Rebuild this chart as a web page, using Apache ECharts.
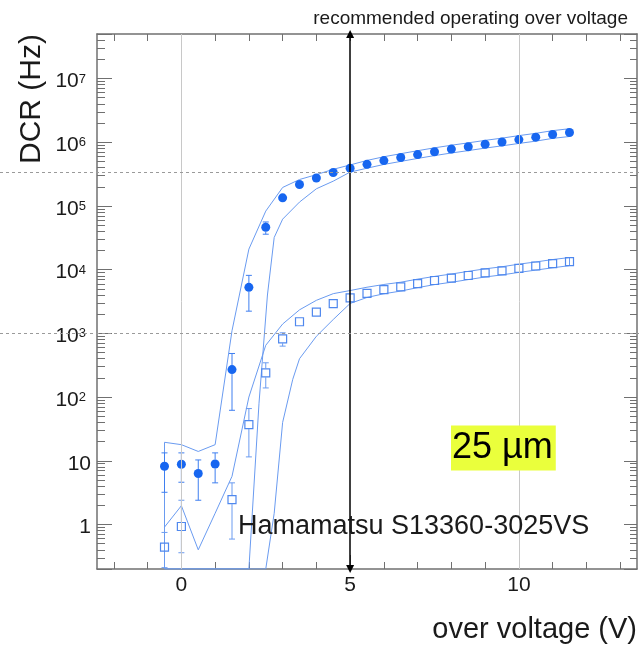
<!DOCTYPE html>
<html>
<head>
<meta charset="utf-8">
<script src="https://cdn.jsdelivr.net/npm/echarts@6/dist/echarts.min.js"></script>
<style>html,body{margin:0;padding:0;background:#fff}#chart{width:641px;height:651px}</style>
</head>
<body>
<div id="chart"></div>
<script>
// ---------------- data ----------------
const circleVoltage = [-0.5,0,0.5,1,1.5,2,2.5,3,3.5,4,4.5,5,5.5,6,6.5,7,7.5,8,8.5,9,9.5,10,10.5,11,11.5];
const circleDCR     = [8.2,8.8,6.3,8.9,270,5270,46200,1.34e5,2.17e5,2.75e5,3.35e5,3.9e5,4.5e5,5.15e5,5.75e5,6.4e5,7.1e5,7.8e5,8.5e5,9.3e5,1.01e6,1.1e6,1.2e6,1.32e6,1.42e6];
const circleErrLow  = [3.2,4.6,2.4,4.5,62,2230,3.6e4,1.2e5,2.1e5,2.67e5,3.25e5,3.78e5,4.37e5,5.0e5,5.58e5,6.21e5,6.89e5,7.57e5,8.25e5,9.02e5,9.8e5,1.07e6,1.16e6,1.28e6,1.38e6];
const circleErrHigh = [13.3,13.3,10.3,13.3,483,8130,5.6e4,1.5e5,2.24e5,2.83e5,3.45e5,4.02e5,4.64e5,5.3e5,5.92e5,6.59e5,7.31e5,8.03e5,8.76e5,9.58e5,1.04e6,1.13e6,1.24e6,1.36e6,1.46e6];

const squareVoltage = [-0.5,0,1.5,2,2.5,3,3.5,4,4.5,5,5.5,6,6.5,7,7.5,8,8.5,9,9.5,10,10.5,11,11.5];
const squareDCR     = [0.44,0.93,2.45,37,240,822,1520,2150,2920,3600,4250,4850,5350,6050,6750,7350,8100,8900,9600,10500,11400,12400,13400];
const squareErrLow  = [0.21,0.36,0.59,11.5,139,630,1320,2000,2780,3460,4080,4660,5140,5810,6480,7060,7780,8540,9220,10100,10900,11900,12900];
const squareErrHigh = [0.75,2.4,4.5,66,345,1020,1750,2300,3070,3740,4420,5040,5560,6290,7020,7640,8420,9260,9980,10900,11900,12900,13900];

// systematic bands: [over voltage, DCR]
const circleBandUpper = [[-0.5,0.2],[-0.5,19.5],[0,17.9],[0.5,14],[1,17.9],[1.5,1100],[2,2.1e4],[2.5,8.3e4],[3,1.95e5],[3.5,2.6e5],[4,3.1e5],[4.5,3.76e5],[5,4.4e5],[5.5,5.18e5],[6,5.92e5],[6.5,6.61e5],[7,7.36e5],[7.5,8.17e5],[8,8.97e5],[8.5,9.78e5],[9,1.07e6],[9.5,1.16e6],[10,1.27e6],[10.5,1.38e6],[11,1.52e6],[11.5,1.63e6]];
const circleBandLower = [[-0.5,0.2],[2,0.2],[2.3,80],[2.55,4000],[2.75,3.2e4],[3,6.2e4],[3.5,1.15e5],[4,1.86e5],[4.5,2.45e5],[5,3.4e5],[5.5,3.91e5],[6,4.48e5],[6.5,5.0e5],[7,5.57e5],[7.5,6.17e5],[8,6.78e5],[8.5,7.39e5],[9,8.09e5],[9.5,8.78e5],[10,9.57e5],[10.5,1.04e6],[11,1.15e6],[11.5,1.23e6]];
const squareBandUpper = [[-0.5,0.2],[-0.5,0.91],[0,1.97],[0.5,0.40],[1,1.5],[1.5,5.7],[2,100],[2.5,650],[3,1400],[3.5,2340],[4,3300],[4.5,4200],[5,4700],[5.5,5300],[6,5850],[6.5,6350],[7,7100],[7.5,7830],[8,8530],[8.5,9400],[9,10300],[9.5,11100],[10,12200],[10.5,13200],[11,14400],[11.5,15500]];
const squareBandLower = [[-0.5,0.2],[2.5,0.2],[2.75,1.5],[3,40],[3.3,190],[3.5,400],[4,900],[4.5,1650],[5,2950],[5.5,3660],[6,4180],[6.5,4610],[7,5220],[7.5,5820],[8,6340],[8.5,6980],[9,7670],[9.5,8280],[10,9050],[10.5,9830],[11,10700],[11.5,11550]];

const recommendedVoltage = [5];
const gridVoltages = [0, 10];
const refLevels = [3.45e5, 1e3];

const xLabelValues = [0, 5, 10];
const xMinorTicks = [-2,-1,0,1,2,3,4,5,6,7,8,9,10,11,12,13];
const yMinorTicks = [0.3,0.4,0.5,0.6,0.7,0.8,0.9,2,3,4,5,6,7,8,9,20,30,40,50,60,70,80,90,
  200,300,400,500,600,700,800,900,2e3,3e3,4e3,5e3,6e3,7e3,8e3,9e3,2e4,3e4,4e4,5e4,6e4,7e4,8e4,9e4,
  2e5,3e5,4e5,5e5,6e5,7e5,8e5,9e5,2e6,3e6,4e6,5e6,6e6,7e6,8e6,9e6,2e7,3e7,4e7];

// ---------------- styles ----------------
const FONT = 'Liberation Sans';
const TEXT = '#1a1a1a';
const FRAME = '#707070';
const DOT = '#1766f0';
const LINE = '#6a9bf0';
const SQ = '#4f88ee';
const X_MIN = -2.5, X_MAX = 13.5, Y_MIN = 0.2, Y_MAX = 5e7;
const MARK_R = 4.5;

// ROOT-like error bars: drawn only outside the marker, with small end caps
function errorBars(xs, ys, lo, hi, color) {
  return {
    type: 'custom', xAxisIndex: 0, yAxisIndex: 0, z: 3, silent: true,
    data: xs.map((x, i) => [x, ys[i], lo[i], hi[i]]),
    encode: { x: 0, y: [1, 2, 3] },
    renderItem: function (params, api) {
      const x = api.value(0);
      const m = api.coord([x, api.value(1)]);
      const a = api.coord([x, api.value(2)]);
      const b = api.coord([x, api.value(3)]);
      const c = 3;
      const st = { stroke: color, lineWidth: 1 };
      const kids = [];
      if (a[1] > m[1] + MARK_R) {
        kids.push({ type: 'line', shape: { x1: m[0], y1: m[1] + MARK_R, x2: a[0], y2: a[1] }, style: st });
        kids.push({ type: 'line', shape: { x1: a[0]-c, y1: a[1], x2: a[0]+c, y2: a[1] }, style: st });
      }
      if (b[1] < m[1] - MARK_R) {
        kids.push({ type: 'line', shape: { x1: m[0], y1: m[1] - MARK_R, x2: b[0], y2: b[1] }, style: st });
        kids.push({ type: 'line', shape: { x1: b[0]-c, y1: b[1], x2: b[0]+c, y2: b[1] }, style: st });
      }
      return { type: 'group', children: kids };
    }
  };
}

function yLabel(v) {
  const l = Math.log10(v), e = Math.round(l);
  if (Math.abs(l - e) > 1e-6) return '';
  if (e === 0) return '{b|1}';
  if (e === 1) return '{b|10}';
  return '{b|10}{s|' + e + '}';
}

const xBase = { type: 'value', min: X_MIN, max: X_MAX, splitLine: { show: false } };
const yBase = { type: 'log', logBase: 10, min: Y_MIN, max: Y_MAX, splitLine: { show: false } };

const chart = echarts.init(document.getElementById('chart'), null, { renderer: 'canvas' });
chart.setOption({
  animation: false,
  backgroundColor: '#fff',
  title: {
    text: 'recommended operating over voltage', right: 8, top: 4,
    textStyle: { fontSize: 19, fontWeight: 'normal', color: TEXT, fontFamily: FONT }
  },
  grid: { left: 97, right: 4, top: 34, bottom: 82, containLabel: false },
  xAxis: [
    Object.assign({}, xBase, {
      position: 'bottom',
      axisLine: { show: true, onZero: false, lineStyle: { color: FRAME, width: 1.5 } },
      axisTick: { show: true, inside: true, length: 7, customValues: xMinorTicks, lineStyle: { color: FRAME } },
      axisLabel: { customValues: xLabelValues, fontSize: 21, color: TEXT, fontFamily: FONT, margin: 6 },
      name: 'over voltage (V)', nameLocation: 'end', nameGap: 0,
      nameTextStyle: { fontSize: 29, color: TEXT, fontFamily: FONT, align: 'right', verticalAlign: 'top', padding: [46, 0, 0, 0] }
    }),
    Object.assign({}, xBase, {
      position: 'bottom',
      axisLine: { show: false, onZero: false },
      axisTick: { show: true, inside: true, length: 14, customValues: xLabelValues, lineStyle: { color: FRAME } },
      axisLabel: { show: false }
    }),
    Object.assign({}, xBase, {
      position: 'top',
      axisLine: { show: true, onZero: false, lineStyle: { color: FRAME, width: 1.5 } },
      axisTick: { show: true, inside: true, length: 7, customValues: xMinorTicks, lineStyle: { color: FRAME } },
      axisLabel: { show: false }
    })
  ],
  yAxis: [
    Object.assign({}, yBase, {
      position: 'left',
      axisLine: { show: true, onZero: false, lineStyle: { color: FRAME, width: 1.5 } },
      axisTick: { show: true, inside: true, length: 15, lineStyle: { color: FRAME } },
      axisLabel: {
        formatter: yLabel, color: TEXT, margin: 6, fontFamily: FONT,
        rich: {
          b: { fontSize: 21, fontFamily: FONT, color: TEXT, lineHeight: 24, padding: [6, 0, 0, 0] },
          s: { fontSize: 13, fontFamily: FONT, color: TEXT, lineHeight: 14, verticalAlign: 'top', padding: [6, 5, 0, 0] }
        }
      },
      name: 'DCR (Hz)', nameLocation: 'end', nameGap: 0, nameRotate: 90,
      nameTextStyle: { fontSize: 30, color: TEXT, fontFamily: FONT, align: 'right', verticalAlign: 'bottom', padding: [0, 0, 50, 0] }
    }),
    Object.assign({}, yBase, {
      position: 'left',
      axisLine: { show: false, onZero: false },
      axisTick: { show: true, inside: true, length: 8, customValues: yMinorTicks, lineStyle: { color: FRAME } },
      axisLabel: { show: false }
    }),
    Object.assign({}, yBase, {
      position: 'right',
      axisLine: { show: true, onZero: false, lineStyle: { color: FRAME, width: 1.5 } },
      axisTick: { show: true, inside: true, length: 13, lineStyle: { color: FRAME } },
      axisLabel: { show: false }
    }),
    Object.assign({}, yBase, {
      position: 'right',
      axisLine: { show: false, onZero: false },
      axisTick: { show: true, inside: true, length: 7, customValues: yMinorTicks, lineStyle: { color: FRAME } },
      axisLabel: { show: false }
    })
  ],
  series: [
    {
      name: 'band 0.5 p.e.', type: 'line', xAxisIndex: 0, yAxisIndex: 0, z: 2, silent: true,
      data: circleBandUpper.concat(circleBandLower.slice().reverse()),
      showSymbol: false, symbol: 'none', lineStyle: { color: LINE, width: 1 },
      markLine: {
        silent: true, symbol: 'none', label: { show: false },
        lineStyle: { color: '#c8c8c8', width: 1, type: 'solid' },
        data: gridVoltages.map(v => ({ xAxis: v }))
      }
    },
    {
      name: 'band 1.5 p.e.', type: 'line', xAxisIndex: 0, yAxisIndex: 0, z: 2, silent: true,
      data: squareBandUpper.concat(squareBandLower.slice().reverse()),
      showSymbol: false, symbol: 'none', lineStyle: { color: LINE, width: 1 }
    },
    errorBars(circleVoltage, circleDCR, circleErrLow, circleErrHigh, '#3f7ff0'),
    errorBars(squareVoltage, squareDCR, squareErrLow, squareErrHigh, LINE),
    {
      name: 'DCR 0.5 p.e.', type: 'scatter', xAxisIndex: 0, yAxisIndex: 0, z: 4,
      data: circleVoltage.map((x, i) => [x, circleDCR[i]]),
      symbol: 'circle', symbolSize: 9, itemStyle: { color: DOT, opacity: 1 },
      markLine: {
        silent: true, symbol: ['triangle', 'triangle'], symbolSize: 8, label: { show: false },
        lineStyle: { color: '#000', width: 1.5, type: 'solid' },
        itemStyle: { color: '#000' },
        data: recommendedVoltage.map(v => ({ xAxis: v }))
      }
    },
    {
      name: 'DCR 1.5 p.e.', type: 'scatter', xAxisIndex: 0, yAxisIndex: 0, z: 4,
      data: squareVoltage.map((x, i) => [x, squareDCR[i]]),
      symbol: 'rect', symbolSize: 8,
      itemStyle: { color: 'rgba(255,255,255,0)', borderColor: SQ, borderWidth: 1.2, opacity: 1 }
    }
  ],
  graphic: [
    { id: 'maker', type: 'text', x: 238, y: 527, z: 10,
      style: { text: 'Hamamatsu S13360-3025VS', fontSize: 27, fontFamily: FONT, fill: TEXT, align: 'left', verticalAlign: 'middle' } },
    { id: 'pitch', type: 'text', x: 451, y: 448, z: 10,
      style: { text: '25 µm', fontSize: 36, fontFamily: FONT, fill: '#000', align: 'left', verticalAlign: 'middle',
               backgroundColor: '#eaff3c', padding: [5, 3, 4, 1] } }
  ]
});

// dashed reference levels across the whole picture, placed through the y axis scale
const refGraphics = refLevels.map((v, i) => {
  const y = Math.round(chart.convertToPixel({ yAxisIndex: 0 }, v)) + 0.5;
  return { id: 'ref' + i, type: 'line', z: 9, silent: true,
    shape: { x1: 0, y1: y, x2: 641, y2: y },
    style: { stroke: '#9a9a9a', lineWidth: 1, lineDash: [3, 3] } };
});
chart.setOption({ graphic: refGraphics });
</script>
</body>
</html>
